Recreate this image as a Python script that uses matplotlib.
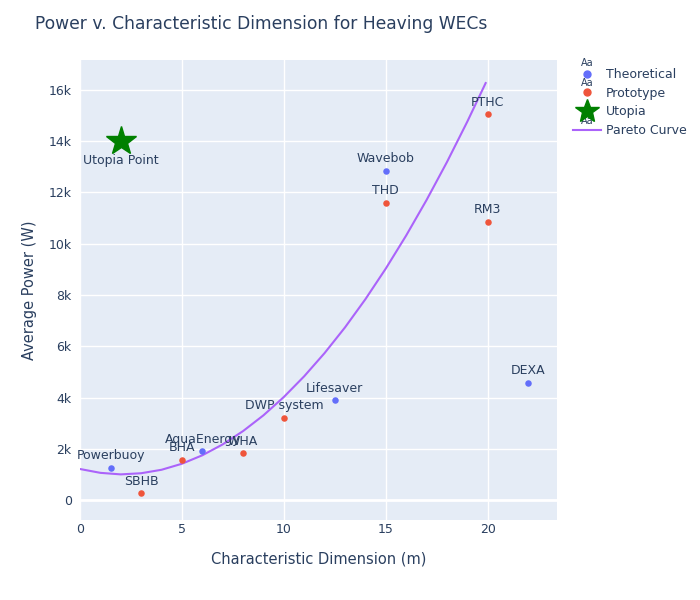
import numpy as np
import matplotlib.pyplot as plt
from matplotlib.lines import Line2D

# theoretical devices
theo_names = ['Powerbuoy', 'AquaEnergy', 'Lifesaver', 'Wavebob', 'DEXA']
theo_dim = [1.5, 6, 12.5, 15, 22]
theo_pow = [1250, 1910, 3900, 12840, 4570]

# prototype devices
proto_names = ['SBHB', 'BHA', 'WHA', 'DWP system', 'THD', 'PTHC', 'RM3']
proto_dim = [3, 5, 8, 10, 15, 20, 20]
proto_pow = [270, 1560, 1830, 3200, 11590, 15060, 10850]

# utopia point
utopia_dim = [2]
utopia_pow = [14000]

# pareto curve
pareto_dim = [0, 1, 2, 3, 4, 5, 6, 7, 8, 9, 10, 11, 12, 13, 14, 15, 16, 17, 18, 19, 19.9]
pareto_pow = [1210, 1060, 1000, 1045, 1180, 1415, 1745, 2170, 2690, 3305, 4020,
              4830, 5735, 6735, 7835, 9030, 10320, 11705, 13185, 14765, 16270]

BLUE = '#636efa'
RED = '#ef553b'
PURPLE = '#ab63fa'
TXT = '#2a3f5f'

fig = plt.figure(figsize=(7, 6), dpi=100)
ax = fig.add_axes([80/700, 1-520/600, 477/700, 460/600])
ax.set_facecolor('#e5ecf6')
for s in ax.spines.values():
    s.set_visible(False)

ax.set_xlim(0, 23.4)
ax.set_ylim(-780, 17170)
ax.set_xticks([0, 5, 10, 15, 20])
ax.set_yticks([0, 2000, 4000, 6000, 8000, 10000, 12000, 14000, 16000])
ax.set_yticklabels(['0', '2k', '4k', '6k', '8k', '10k', '12k', '14k', '16k'])
ax.tick_params(length=0, labelsize=9, colors=TXT)
ax.tick_params(axis='x', pad=2)
ax.tick_params(axis='y', pad=6)
ax.grid(color='white', linewidth=1)
ax.set_axisbelow(True)
ax.axhline(0, color='white', linewidth=2, zorder=0.5)

ax.plot(pareto_dim, pareto_pow, color=PURPLE, linewidth=1.5, zorder=2)
ax.scatter(theo_dim, theo_pow, s=22, color=BLUE, zorder=3, linewidths=0)
ax.scatter(proto_dim, proto_pow, s=22, color=RED, zorder=3, linewidths=0)
ax.plot(utopia_dim, utopia_pow, marker='*', markersize=22, color='green', linestyle='none', zorder=3)

for n, x, y in zip(theo_names + proto_names, theo_dim + proto_dim, theo_pow + proto_pow):
    ax.annotate(n, (x, y), xytext=(0, 4), textcoords='offset points', ha='center',
                va='bottom', fontsize=9, color=TXT, zorder=4)
ax.annotate('Utopia Point', (utopia_dim[0], utopia_pow[0]), xytext=(0, -9), textcoords='offset points',
            ha='center', va='top', fontsize=9, color=TXT, zorder=4)

ax.set_xlabel('Characteristic Dimension (m)', fontsize=10.5, color=TXT, labelpad=11)
ax.set_ylabel('Average Power (W)', fontsize=10.5, color=TXT, labelpad=8)
fig.text(35/700, 1-24/600, 'Power v. Characteristic Dimension for Heaving WECs',
         fontsize=12.3, color=TXT, va='center', ha='left')

handles = [
    Line2D([], [], marker='o', markersize=5, color=BLUE, linestyle='none'),
    Line2D([], [], marker='o', markersize=5, color=RED, linestyle='none'),
    Line2D([], [], marker='*', markersize=18, color='green', linestyle='none'),
    Line2D([], [], color=PURPLE, linewidth=1.5),
]
leg = fig.legend(handles, ['Theoretical', 'Prototype', 'Utopia', 'Pareto Curve'],
                 loc='upper left', bbox_to_anchor=(573/700, 1-68/600), frameon=False,
                 fontsize=9, labelcolor=TXT, handlelength=2.2, handletextpad=0.45,
                 labelspacing=0.45, borderaxespad=0, borderpad=0)
# small 'Aa' glyphs plotly draws for text traces
for x, y in [(587, 63), (587, 83), (587, 121)]:
    fig.text(x/700, 1-y/600, 'Aa', fontsize=7, color=TXT, ha='center', va='center')

fig.savefig('out.png', dpi=100)
